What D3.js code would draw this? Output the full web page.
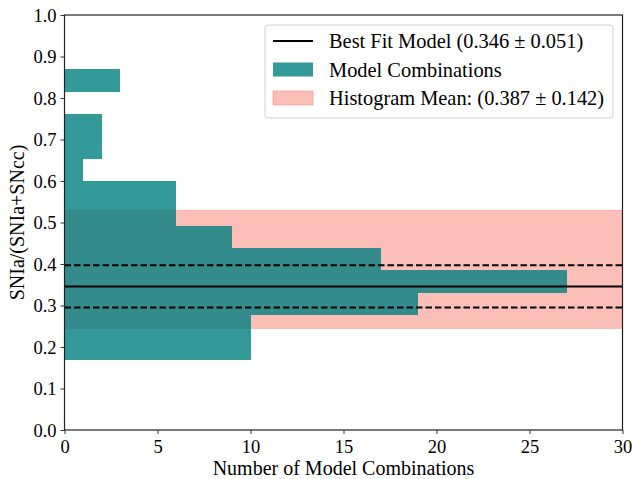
<!DOCTYPE html>
<html>
<head>
<meta charset="utf-8">
<script src="https://cdn.jsdelivr.net/npm/d3@7"></script>
<style>
  body { margin: 0; background: #fff; }
  svg text { font-family: "Liberation Serif", "Times New Roman", serif; }
</style>
</head>
<body>
<div id="chart"></div>
<script>
// histogram bins (SNIa fraction) and counts
const binEdges = [0.169, 0.223, 0.277, 0.331, 0.385, 0.439, 0.492, 0.546, 0.600, 0.654, 0.708, 0.762, 0.815, 0.869];
const counts = [10, 10, 19, 27, 17, 9, 6, 6, 1, 2, 2, 0, 3];

const bestFit = 0.346, bestFitErr = 0.051;
const histMean = 0.387, histStd = 0.142;

const xTicks = [0, 5, 10, 15, 20, 25, 30];
const yTicks = [0, 0.1, 0.2, 0.3, 0.4, 0.5, 0.6, 0.7, 0.8, 0.9, 1.0];

const legendLabels = [
    "Best Fit Model (0.346 \u00b1 0.051)",
    "Model Combinations",
    "Histogram Mean: (0.387 \u00b1 0.142)"
];

const width = 634, height = 479;
const margin = { top: 15, right: 11.5, bottom: 49, left: 64.5 };
const serif = "'Liberation Serif', 'Times New Roman', serif";

const svg = d3.select("#chart").append("svg")
    .attr("width", width)
    .attr("height", height);

const x = d3.scaleLinear().domain([0, 30]).range([margin.left, width - margin.right]);
const y = d3.scaleLinear().domain([0, 1]).range([height - margin.bottom, margin.top]);

const salmon = "#fa8072";
const teal = "#008080";

// histogram mean band
svg.append("rect")
    .attr("x", x(0))
    .attr("y", y(histMean + histStd))
    .attr("width", x(30) - x(0))
    .attr("height", y(histMean - histStd) - y(histMean + histStd))
    .style("fill", salmon)
    .style("fill-opacity", 0.5)
    .style("stroke", salmon)
    .style("stroke-opacity", 0.5)
    .style("stroke-width", 1);

// horizontal histogram bars
const bins = counts.map((c, i) => ({ lo: binEdges[i], hi: binEdges[i + 1], count: c }));
svg.append("g").selectAll("rect")
    .data(bins.filter(d => d.count > 0))
    .join("rect")
    .attr("x", x(0))
    .attr("y", d => Math.round(y(d.hi)))
    .attr("width", d => x(d.count) - x(0))
    .attr("height", d => Math.round(y(d.lo)) - Math.round(y(d.hi)))
    .attr("shape-rendering", "crispEdges")
    .style("fill", teal)
    .style("fill-opacity", 0.8);

// best fit lines
svg.append("line")
    .attr("x1", x(0)).attr("x2", x(30))
    .attr("y1", y(bestFit)).attr("y2", y(bestFit))
    .style("stroke", "black")
    .style("stroke-width", 2);

[bestFit - bestFitErr, bestFit + bestFitErr].forEach(v => {
    svg.append("line")
        .attr("x1", x(0)).attr("x2", x(30))
        .attr("y1", y(v)).attr("y2", y(v))
        .style("stroke", "black")
        .style("stroke-width", 2)
        .style("stroke-dasharray", "6.5,3");
});

// axes
const xAxis = svg.append("g")
    .attr("transform", `translate(0,${y(0)})`)
    .call(d3.axisBottom(x).tickValues(xTicks).tickFormat(d3.format("d")).tickSize(4).tickPadding(6));
const yAxis = svg.append("g")
    .attr("transform", `translate(${x(0)},0)`)
    .call(d3.axisLeft(y).tickValues(yTicks).tickFormat(d3.format(".1f")).tickSize(4).tickPadding(4));

[xAxis, yAxis].forEach(a => {
    a.attr("font-family", serif).attr("font-size", 18.5);
    a.select(".domain").remove();
    a.selectAll("line").style("stroke", "#333").style("stroke-width", 1);
    a.selectAll("text").style("font-size", "18.5px").style("fill", "#000")
        .style("font-family", serif);
});
yAxis.selectAll("text").attr("dy", "0.34em");

// frame
svg.append("rect")
    .attr("x", x(0))
    .attr("y", y(1))
    .attr("width", x(30) - x(0))
    .attr("height", y(0) - y(1))
    .style("fill", "none")
    .style("stroke", "#222")
    .style("stroke-width", 1.2);

// axis labels
svg.append("text")
    .attr("x", (x(0) + x(30)) / 2)
    .attr("y", 475)
    .attr("text-anchor", "middle")
    .style("font-size", "20px")
    .text("Number of Model Combinations");

svg.append("text")
    .attr("transform", `translate(24,${(y(0) + y(1)) / 2}) rotate(-90)`)
    .attr("text-anchor", "middle")
    .style("font-size", "20px")
    .text("SNIa/(SNIa+SNcc)");

// legend
const legend = svg.append("g").attr("transform", "translate(265,25)");
legend.append("rect")
    .attr("width", 348)
    .attr("height", 93)
    .attr("rx", 3)
    .style("fill", "white")
    .style("fill-opacity", 0.8)
    .style("stroke", "#d0d0d0")
    .style("stroke-width", 1);

const rowY = [16, 44.5, 73];
legend.append("line")
    .attr("x1", 8).attr("x2", 48)
    .attr("y1", rowY[0]).attr("y2", rowY[0])
    .style("stroke", "black").style("stroke-width", 2);
legend.append("rect")
    .attr("x", 8).attr("y", rowY[1] - 7)
    .attr("width", 40).attr("height", 14)
    .style("fill", teal).style("fill-opacity", 0.8);
legend.append("rect")
    .attr("x", 8).attr("y", rowY[2] - 7)
    .attr("width", 40).attr("height", 14)
    .style("fill", salmon).style("fill-opacity", 0.5)
    .style("stroke", salmon).style("stroke-opacity", 0.5);

legendLabels.forEach((t, i) => {
    legend.append("text")
        .attr("x", 64)
        .attr("y", rowY[i])
        .attr("dy", "0.35em")
        .style("font-size", "20.4px")
        .text(t);
});
</script>
</body>
</html>
